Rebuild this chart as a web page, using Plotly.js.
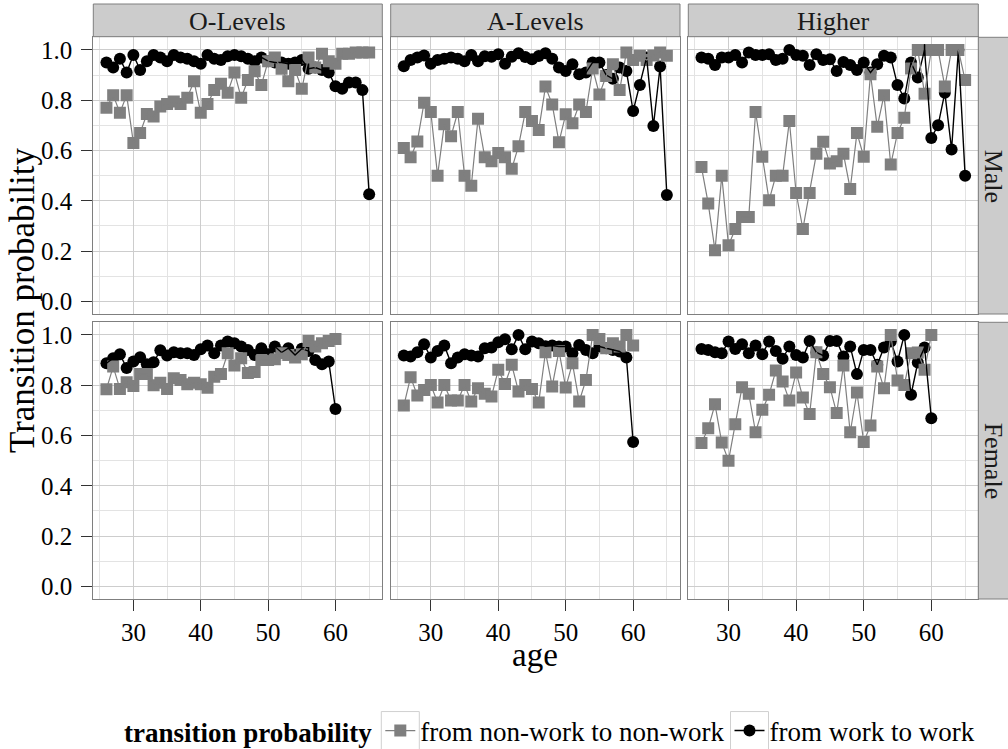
<!DOCTYPE html>
<html>
<head>
<meta charset="utf-8">
<script src="https://cdn.plot.ly/plotly-3.0.1.min.js"></script>
<style>html,body{margin:0;padding:0;background:#fff;}#chart{width:1008px;height:749px;}</style>
</head>
<body>
<div id="chart"></div>
<script>
// ---------- data ----------
const agesMale = [26,27,28,29,30,31,32,33,34,35,36,37,38,39,40,41,42,43,44,45,46,47,48,49,50,51,52,53,54,55,56,57,58,59,60,61,62,63,64,65];
const agesFemale = [26,27,28,29,30,31,32,33,34,35,36,37,38,39,40,41,42,43,44,45,46,47,48,49,50,51,52,53,54,55,56,57,58,59,60];

const educationLevels = ["O-Levels", "A-Levels", "Higher"];
const sexes = ["Male", "Female"];
const seriesNames = ["from non-work to non-work", "from work to work"];
const legendTitle = "transition probability";
const xTitle = "age";
const yTitle = "Transition probability";

// Male
const oLevelsMaleNonWork = [0.77,0.82,0.75,0.82,0.63,0.67,0.745,0.735,0.775,0.785,0.795,0.785,0.81,0.875,0.75,0.785,0.84,0.865,0.83,0.91,0.81,0.88,0.915,0.86,0.955,0.97,0.925,0.875,0.92,0.845,0.97,0.93,0.985,0.955,0.945,0.985,0.985,0.99,0.99,0.99];
const oLevelsMaleWork = [0.95,0.93,0.965,0.91,0.98,0.92,0.955,0.98,0.97,0.955,0.98,0.97,0.965,0.955,0.945,0.98,0.965,0.96,0.975,0.98,0.975,0.965,0.955,0.97,0.955,0.95,0.95,0.945,0.95,0.96,0.925,0.93,0.92,0.91,0.855,0.845,0.87,0.87,0.84,0.426];
const aLevelsMaleNonWork = [0.61,0.573,0.636,0.79,0.753,0.50,0.704,0.657,0.753,0.50,0.46,0.726,0.573,0.557,0.59,0.573,0.527,0.617,0.753,0.717,0.681,0.854,0.783,0.633,0.744,0.708,0.783,0.753,0.926,0.823,0.896,0.943,0.84,0.99,0.96,0.977,0.96,0.978,0.99,0.977];
const aLevelsMaleWork = [0.935,0.96,0.97,0.978,0.945,0.96,0.965,0.97,0.965,0.955,0.98,0.955,0.975,0.973,0.983,0.945,0.973,0.987,0.972,0.963,0.976,0.987,0.965,0.93,0.916,0.943,0.903,0.91,0.95,0.95,0.90,0.885,0.93,0.916,0.757,0.86,0.97,0.697,0.934,0.423];
const higherMaleNonWork = [0.534,0.389,0.203,0.50,0.223,0.288,0.336,0.336,0.753,0.575,0.402,0.50,0.50,0.717,0.431,0.288,0.431,0.587,0.635,0.548,0.557,0.587,0.447,0.67,0.575,0.903,0.694,0.82,0.544,0.67,0.73,0.926,1.0,0.826,1.0,1.0,0.854,1.0,1.0,0.88];
const higherMaleWork = [0.97,0.965,0.94,0.97,0.97,0.98,0.95,0.99,0.98,0.98,0.983,0.96,0.965,1.0,0.98,0.977,0.94,0.983,0.96,0.963,0.916,0.952,0.94,0.92,0.95,0.91,0.943,0.977,0.97,0.86,0.807,0.95,0.89,1.0,0.65,0.70,0.83,0.604,1.0,0.50];

// Female
const oLevelsFemaleNonWork = [0.784,0.874,0.785,0.812,0.797,0.844,0.844,0.80,0.81,0.785,0.828,0.821,0.804,0.81,0.804,0.79,0.834,0.844,0.927,0.878,0.907,0.848,0.852,0.90,0.90,0.903,0.927,0.92,0.91,0.923,0.976,0.954,0.967,0.976,0.984];
const oLevelsFemaleWork = [0.887,0.907,0.923,0.868,0.894,0.911,0.883,0.891,0.939,0.918,0.931,0.927,0.927,0.92,0.943,0.958,0.927,0.958,0.974,0.967,0.954,0.94,0.92,0.947,0.923,0.954,0.93,0.947,0.92,0.945,0.936,0.90,0.883,0.894,0.705];
const aLevelsFemaleNonWork = [0.719,0.832,0.759,0.781,0.801,0.731,0.801,0.739,0.739,0.801,0.735,0.788,0.766,0.755,0.861,0.805,0.881,0.775,0.801,0.785,0.731,0.931,0.795,0.936,0.791,0.887,0.735,0.821,1.0,0.984,0.947,0.967,0.954,1.0,0.958];
const aLevelsFemaleWork = [0.918,0.914,0.931,0.963,0.91,0.936,0.958,0.887,0.91,0.923,0.918,0.914,0.947,0.95,0.971,0.983,0.943,1.0,0.943,0.974,0.967,0.955,0.958,0.954,0.954,0.927,0.96,0.94,0.927,0.954,0.947,0.94,0.934,0.91,0.574];
const higherFemaleNonWork = [0.57,0.629,0.724,0.572,0.50,0.645,0.792,0.766,0.613,0.702,0.762,0.858,0.815,0.739,0.85,0.751,0.685,0.931,0.844,0.792,0.689,0.878,0.613,0.771,0.574,0.64,0.874,0.788,1.0,0.819,0.801,0.927,0.93,0.861,1.0];
const higherFemaleWork = [0.944,0.94,0.931,0.927,0.974,0.944,0.963,0.927,0.958,0.923,0.974,0.936,0.905,0.954,0.92,0.91,0.976,0.93,0.918,0.976,0.976,0.914,0.954,0.844,0.94,0.94,0.881,0.95,0.974,0.894,1.0,0.762,0.89,0.95,0.669];

const xTicks = [30, 40, 50, 60];
const xMinor = [25, 35, 45, 55, 65];
const yTicks = [0.0, 0.2, 0.4, 0.6, 0.8, 1.0];
const yMinor = [0.1, 0.3, 0.5, 0.7, 0.9];

// ---------- layout geometry (pixels of the 1008x749 page) ----------
const W = 1008, H = 749;
const colPx = [[93.3, 382.3], [390.7, 680.0], [688.3, 978.3]];
const rowPx = [[37.3, 314.0], [322.3, 599.0]];
const px = v => v / W;
const py = v => (H - v) / H;

const FONT = "'Liberation Serif', 'Times New Roman', serif";
const GREY = "#7f7f7f";
const MS = 12;

const panels = [
  {nw: oLevelsMaleNonWork, w: oLevelsMaleWork, ages: agesMale},
  {nw: aLevelsMaleNonWork, w: aLevelsMaleWork, ages: agesMale},
  {nw: higherMaleNonWork, w: higherMaleWork, ages: agesMale},
  {nw: oLevelsFemaleNonWork, w: oLevelsFemaleWork, ages: agesFemale},
  {nw: aLevelsFemaleNonWork, w: aLevelsFemaleWork, ages: agesFemale},
  {nw: higherFemaleNonWork, w: higherFemaleWork, ages: agesFemale}
];

const traces = [];
const layout = {
  width: W, height: H,
  margin: {l: 0, r: 0, t: 0, b: 0, autoexpand: false},
  paper_bgcolor: "#fff", plot_bgcolor: "#fff",
  font: {family: FONT, size: 25, color: "#000"},
  showlegend: true,
  legend: {
    orientation: "h", x: 551 / W, xanchor: "center", y: py(731), yanchor: "middle",
    font: {family: FONT, size: 27, color: "#000"},
    title: {text: "<b>" + legendTitle + "</b>", side: "left", font: {family: FONT, size: 27, color: "#000"}},
    tracegroupgap: 0, bgcolor: "rgba(0,0,0,0)"
  },
  shapes: [], annotations: []
};

panels.forEach((p, i) => {
  const col = i % 3, row = Math.floor(i / 3);
  const suf = i === 0 ? "" : String(i + 1);
  const xa = "x" + suf, ya = "y" + suf;
  traces.push({x: p.ages, y: p.w, xaxis: xa, yaxis: ya, type: "scatter", mode: "markers",
    marker: {symbol: "circle", size: MS, color: "#000"}, showlegend: false, hoverinfo: "skip"});
  traces.push({x: p.ages, y: p.nw, xaxis: xa, yaxis: ya, type: "scatter", mode: "markers",
    marker: {symbol: "square", size: MS, color: GREY}, showlegend: false, hoverinfo: "skip"});
  traces.push({x: p.ages, y: p.w, xaxis: xa, yaxis: ya, type: "scatter", mode: "lines",
    line: {color: "#000", width: 1.4}, showlegend: false, hoverinfo: "skip"});
  traces.push({x: p.ages, y: p.nw, xaxis: xa, yaxis: ya, type: "scatter", mode: "lines",
    line: {color: GREY, width: 1.2}, showlegend: false, hoverinfo: "skip"});

  const bottom = row === 1, left = col === 0;
  layout["xaxis" + suf] = {
    domain: [px(colPx[col][0]), px(colPx[col][1])],
    anchor: ya, range: [24.05, 66.95], automargin: false,
    tickmode: "array", tickvals: xTicks,
    showgrid: true, gridcolor: "#cdcdcd", gridwidth: 1,
    minor: {tickvals: xMinor, showgrid: true, gridcolor: "#e3e3e3", gridwidth: 1, ticks: ""},
    zeroline: false, showline: true, mirror: true, linecolor: GREY, linewidth: 1,
    ticks: bottom ? "outside" : "", ticklen: 11, tickcolor: "#333", tickwidth: 1,
    showticklabels: bottom, tickfont: {family: FONT, size: 25, color: "#000"},
    fixedrange: true
  };
  layout["yaxis" + suf] = {
    domain: [py(rowPx[row][1]), py(rowPx[row][0])],
    anchor: xa, range: [-0.05, 1.05], automargin: false,
    tickmode: "array", tickvals: yTicks, tickformat: ".1f",
    showgrid: true, gridcolor: "#cdcdcd", gridwidth: 1,
    minor: {tickvals: yMinor, showgrid: true, gridcolor: "#e3e3e3", gridwidth: 1, ticks: ""},
    zeroline: false, showline: true, mirror: true, linecolor: GREY, linewidth: 1,
    ticks: left ? "outside" : "", ticklen: 11, tickcolor: "#333", tickwidth: 1,
    ticklabelstandoff: 4,
    showticklabels: left, tickfont: {family: FONT, size: 25, color: "#000"},
    fixedrange: true
  };
});

// legend-only entries
traces.push({x: [null], y: [null], type: "scatter", mode: "lines+markers", name: seriesNames[0],
  marker: {symbol: "square", size: MS, color: GREY}, line: {color: GREY, width: 1.2}, showlegend: true});
traces.push({x: [null], y: [null], type: "scatter", mode: "lines+markers", name: seriesNames[1],
  marker: {symbol: "circle", size: MS, color: "#000"}, line: {color: "#000", width: 1.4}, showlegend: true});

// strips
educationLevels.forEach((lab, c) => {
  layout.shapes.push({type: "rect", xref: "paper", yref: "paper",
    x0: px(colPx[c][0]), x1: px(colPx[c][1]), y0: py(36.7), y1: py(4),
    fillcolor: "#cccccc", line: {color: GREY, width: 1}, layer: "above"});
  layout.annotations.push({xref: "paper", yref: "paper", x: px((colPx[c][0] + colPx[c][1]) / 2), y: py(21),
    text: lab, showarrow: false, xanchor: "center", yanchor: "middle",
    font: {family: FONT, size: 26, color: "#1a1a1a"}});
});
sexes.forEach((lab, r) => {
  layout.shapes.push({type: "rect", xref: "paper", yref: "paper",
    x0: px(978.3), x1: px(1012), y0: py(rowPx[r][1]), y1: py(rowPx[r][0]),
    fillcolor: "#cccccc", line: {color: GREY, width: 1}, layer: "above"});
  layout.annotations.push({xref: "paper", yref: "paper", x: px(993), y: py((rowPx[r][0] + rowPx[r][1]) / 2),
    text: lab, showarrow: false, xanchor: "center", yanchor: "middle", textangle: 90,
    font: {family: FONT, size: 26, color: "#1a1a1a"}});
});

// axis titles
layout.annotations.push({xref: "paper", yref: "paper", x: px(535), y: py(655), text: xTitle,
  showarrow: false, xanchor: "center", yanchor: "middle", font: {family: FONT, size: 33, color: "#000"}});
layout.annotations.push({xref: "paper", yref: "paper", x: px(22), y: py(301), text: yTitle,
  showarrow: false, xanchor: "center", yanchor: "middle", textangle: -90, font: {family: FONT, size: 35, color: "#000"}});

Plotly.newPlot("chart", traces, layout, {staticPlot: true, displayModeBar: false}).then(gd => {
  // ggplot-style key boxes around each legend symbol
  const root = gd.getBoundingClientRect();
  const items = gd.querySelectorAll(".legend .traces");
  const boxes = [];
  items.forEach(it => {
    const sym = it.querySelector(".legendpoints") || it.querySelector(".legendlines");
    const r = (sym || it).getBoundingClientRect();
    const cx = r.left + r.width / 2 - root.left;
    const cy = r.top + r.height / 2 - root.top;
    boxes.push({type: "rect", xref: "paper", yref: "paper",
      x0: px(cx - 19), x1: px(cx + 19), y0: py(cy + 19), y1: py(cy - 19),
      fillcolor: "rgba(0,0,0,0)", line: {color: "#d0d0d0", width: 1}, layer: "above"});
  });
  if (boxes.length) Plotly.relayout(gd, {shapes: layout.shapes.concat(boxes)});
});
</script>
</body>
</html>
